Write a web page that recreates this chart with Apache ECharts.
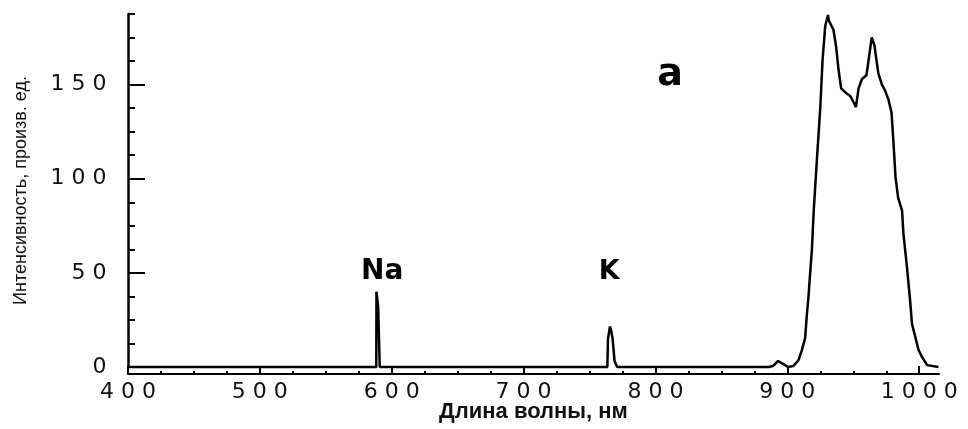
<!DOCTYPE html>
<html>
<head>
<meta charset="utf-8">
<script src="https://cdn.jsdelivr.net/npm/echarts@6/dist/echarts.min.js"></script>
<style>
html,body{margin:0;padding:0;background:#fff;}
#chart{width:968px;height:429px;}
</style>
</head>
<body>
<div id="chart"></div>
<script>
// ---- data ----
var wavelength = [400, 588.3, 588.4, 589.6, 589.7, 590.8, 590.9, 763.5, 764, 765.5, 766.5, 767.5, 768.5, 769, 771,
  886, 889, 893, 897, 900.5, 904.5, 908.5, 911, 913.5, 914.7, 916, 917.3, 918.6, 920, 922.4, 925,
  926.7, 928.7, 930.8, 931.5, 932.5, 935, 937, 938.8, 940.8, 943.8, 947.6, 950, 952, 954, 956.6,
  960, 962, 964, 966, 969, 971.7, 974, 976.7, 979, 980.5, 982, 984, 987, 988, 990.7, 993, 994.5,
  997, 999.5, 1002, 1006, 1014.6];
var intensity = [0, 0, 40, 40, 32, 32, 0, 0, 15, 21.5, 19, 15, 15, 3, 0,
  0, 0.5, 3.2, 1.5, 0, 0.5, 3.7, 9, 15.4, 27, 37, 50, 62, 83, 110, 138,
  163, 181, 187, 184, 183, 179, 170, 158, 148, 146, 144, 141, 138, 148, 153,
  155, 165, 175, 171, 156, 150, 147, 142, 135, 119, 101, 90, 83, 71, 53, 36, 23,
  16, 9, 5.5, 1, 0];
var xMajorTicks = [400, 500, 600, 700, 800, 900, 1000];
var xMinorTicks = [425, 450, 475, 525, 550, 575, 625, 650, 675, 725, 750, 775, 825, 850, 875, 925, 950, 975];
var yMajorTicks = [0, 50, 100, 150];
var yMinorTicks = [12.5, 25, 37.5, 62.5, 75, 87.5, 112.5, 125, 137.5, 162.5, 175, 187.5];
var annText = ['a', 'Na', 'K'];
var annX = [811, 592.7, 765];
var annY = [155, 50.5, 50.3];
var xTitle = 'Длина волны, нм';
var yTitle = 'Интенсивность, произв. ед.';

// ---- styles ----
var annFont = { 'a': 38, 'Na': 28, 'K': 27 };

var seriesData = wavelength.map(function (w, i) { return [w, intensity[i]]; });
var markData = annText.map(function (t, i) {
  return {
    name: t, coord: [annX[i], annY[i]],
    label: { fontSize: annFont[t] }
  };
});

function digits(v) {
  return String(v).split('').map(function (c) { return '{d|' + c + '}'; }).join('');
}
var digitRich = { d: { width: 21, align: 'center', fontFamily: 'DejaVu Sans', fontSize: 22, color: '#111' } };

var chart = echarts.init(document.getElementById('chart'), null, { renderer: 'canvas' });
chart.setOption({
  animation: false,
  backgroundColor: '#fff',
  grid: { left: 128, right: 29, top: 14, bottom: 62, containLabel: false, outerBoundsMode: 'none' },
  xAxis: [{
    type: 'value', position: 'bottom', min: 400, max: 1015, offset: 7,
    axisLine: { show: true, onZero: false, lineStyle: { color: '#000', width: 2 } },
    axisTick: { show: true, inside: true, length: 8, customValues: xMajorTicks, lineStyle: { color: '#000', width: 2 } },
    axisLabel: { show: true, customValues: xMajorTicks, margin: 7, formatter: digits, rich: digitRich },
    splitLine: { show: false },
    name: xTitle, nameLocation: 'middle', nameGap: 27, nameMoveOverlap: false,
    nameTextStyle: { fontFamily: 'Liberation Sans', fontWeight: 'bold', fontSize: 22, color: '#111' }
  }, {
    type: 'value', position: 'bottom', min: 400, max: 1015, offset: 7,
    axisLine: { show: false, onZero: false },
    axisTick: { show: true, inside: true, length: 3, customValues: xMinorTicks, lineStyle: { color: '#000', width: 2 } },
    axisLabel: { show: false },
    splitLine: { show: false }
  }],
  yAxis: [{
    type: 'value', min: 0, max: 187.5, position: 'left',
    axisLine: { show: true, onZero: false, lineStyle: { color: '#000', width: 2.5 } },
    axisTick: { show: true, inside: true, length: 17, customValues: yMajorTicks, lineStyle: { color: '#000', width: 2 } },
    axisLabel: { show: true, customValues: yMajorTicks, margin: 18, formatter: digits, rich: digitRich },
    splitLine: { show: false },
    name: yTitle, nameLocation: 'middle', nameGap: 98, nameRotate: 90, nameMoveOverlap: false,
    nameTextStyle: { fontFamily: 'Liberation Sans Narrow, Liberation Sans', fontSize: 18, color: '#111' }
  }, {
    type: 'value', min: 0, max: 187.5, position: 'left',
    axisLine: { show: false, onZero: false },
    axisTick: { show: true, inside: true, length: 7, customValues: yMinorTicks, lineStyle: { color: '#000', width: 2 } },
    axisLabel: { show: false },
    splitLine: { show: false }
  }],
  series: [{
    type: 'line',
    xAxisIndex: 0, yAxisIndex: 0,
    data: seriesData,
    showSymbol: false,
    lineStyle: { color: '#000', width: 2.5 },
    clip: false,
    markPoint: {
      symbol: 'circle', symbolSize: 0,
      label: {
        show: true, position: 'inside', color: '#000',
        fontFamily: 'DejaVu Sans', fontWeight: 'bold',
        formatter: function (p) { return p.name; }
      },
      data: markData
    }
  }]
});
</script>
</body>
</html>
